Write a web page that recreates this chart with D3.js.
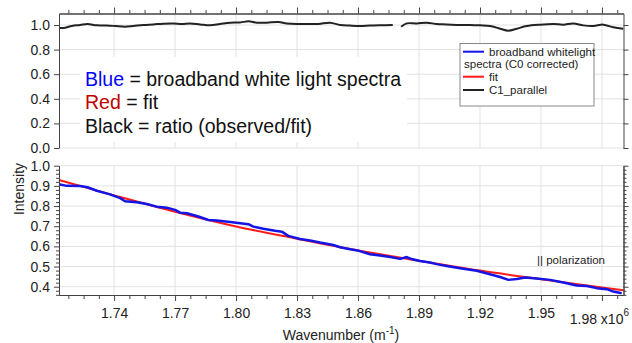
<!DOCTYPE html>
<html><head><meta charset="utf-8">
<script src="https://cdn.jsdelivr.net/npm/d3@7"></script>
<style>
html,body{margin:0;padding:0;background:#fff;}
svg{display:block;font-family:"Liberation Sans",Arial,sans-serif;}
</style></head>
<body><svg id="c" width="632" height="343"></svg>
<script>
// ---------- data ----------
const blueWn = [1.7129,1.7167,1.7233,1.7269,1.7315,1.7380,1.7430,1.7454,1.7512,1.7561,1.7610,1.7659,1.7700,1.7725,1.7758,1.7815,1.7864,1.7905,1.7971,1.8020,1.8061,1.8085,1.8134,1.8192,1.8225,1.8257,1.8315,1.8364,1.8413,1.8453,1.8478,1.8512,1.8561,1.8605,1.8659,1.8709,1.8758,1.8807,1.8840,1.8864,1.8905,1.8954,1.8987,1.9036,1.9102,1.9184,1.9249,1.9299,1.9340,1.9381,1.9422,1.9479,1.9545,1.9610,1.9676,1.9725,1.9774,1.9824,1.9856,1.9897];
const blueVal = [0.908,0.900,0.899,0.893,0.876,0.858,0.839,0.824,0.819,0.810,0.797,0.792,0.781,0.767,0.764,0.748,0.731,0.728,0.721,0.715,0.710,0.698,0.687,0.677,0.673,0.652,0.637,0.629,0.619,0.612,0.607,0.596,0.586,0.578,0.561,0.555,0.547,0.538,0.547,0.537,0.528,0.520,0.512,0.503,0.492,0.479,0.462,0.448,0.434,0.438,0.446,0.441,0.434,0.421,0.406,0.404,0.393,0.388,0.376,0.368];

const fitWn  = [1.7129,1.74,1.77,1.80,1.83,1.86,1.89,1.92,1.95,1.98,1.9906];
const fitVal = [0.929,0.853,0.772,0.699,0.638,0.580,0.529,0.480,0.437,0.396,0.382];

const ratioWn  = [1.7129,1.7151,1.7192,1.7233,1.7269,1.7315,1.7364,1.7405,1.7454,1.7495,1.7544,1.7593,1.7642,1.7692,1.7733,1.7774,1.7823,1.7872,1.7921,1.7971,1.8020,1.8061,1.8102,1.8151,1.8208,1.8249,1.8299,1.8348,1.8405,1.8462,1.8512,1.8561,1.8610,1.8659,1.8708,1.8771,1.8790,1.8812,1.8840,1.8889,1.8938,1.8987,1.9036,1.9102,1.9151,1.9200,1.9249,1.9299,1.9339,1.9381,1.9430,1.9495,1.9561,1.9610,1.9659,1.9708,1.9758,1.9807,1.9856,1.9905];
const ratioVal = [0.978,0.976,0.992,1.000,1.008,0.997,0.996,0.992,0.986,0.992,1.000,1.005,1.011,1.013,1.008,1.013,1.005,0.997,1.008,1.019,1.021,1.030,1.019,1.019,1.024,1.013,1.008,1.008,1.008,1.019,1.000,0.995,0.992,0.995,0.997,1.000,null,0.986,1.013,1.013,1.019,1.008,1.005,1.000,1.000,0.997,0.992,0.970,0.954,0.970,0.992,1.003,1.008,1.003,1.013,0.997,0.992,1.003,0.981,0.970];

const xMajorTicks = [1.74,1.77,1.80,1.83,1.86,1.89,1.92,1.95,1.98];
const xTickLabels = ["1.74","1.77","1.80","1.83","1.86","1.89","1.92","1.95",""];
const topYTicks = [0,0.2,0.4,0.6,0.8,1.0];
const botYTicks = [0.4,0.5,0.6,0.7,0.8,0.9,1.0];

const legendLabels = ["broadband whitelight","spectra (C0 corrected)","fit","C1_parallel"];
const seriesColors = {blue:"#1414e6", red:"#ff1a1a", black:"#222222"};

// ---------- layout ----------
const svg = d3.select("#c");
svg.append("rect").attr("width",632).attr("height",343).attr("fill","#fff");
const L=59, R=623.5;
const x = d3.scaleLinear().domain([1.7129,1.9906]).range([L,R]);
const yTop = d3.scaleLinear().domain([0,1.0935]).range([148,13.5]);
const yBot = d3.scaleLinear().domain([0.359,1.0]).range([295,165.7]);

const xMinor = d3.range(1.7175,1.991,0.0075).filter(v=>!xMajorTicks.some(t=>Math.abs(t-v)<1e-4));
const botMinor = d3.range(0.36,1.0001,0.02).filter(v=>!botYTicks.some(t=>Math.abs(t-v)<1e-4));

const gridColor="#e2e2e2";
// grids
const grid = svg.append("g");
xMajorTicks.forEach(t=>{
  grid.append("line").attr("x1",x(t)).attr("x2",x(t)).attr("y1",yTop.range()[1]).attr("y2",148).attr("stroke",gridColor);
  grid.append("line").attr("x1",x(t)).attr("x2",x(t)).attr("y1",yBot(1.0)).attr("y2",295).attr("stroke",gridColor);
});
topYTicks.forEach(t=>grid.append("line").attr("x1",L).attr("x2",R).attr("y1",yTop(t)).attr("y2",yTop(t)).attr("stroke",gridColor));
botYTicks.forEach(t=>grid.append("line").attr("x1",L).attr("x2",R).attr("y1",yBot(t)).attr("y2",yBot(t)).attr("stroke",gridColor));

// annotation white box
svg.append("rect").attr("x",80).attr("y",57).attr("width",327).attr("height",85).attr("fill","#fff");

// ---------- series ----------
const ratioData = ratioWn.map((w,i)=>({x:w,y:ratioVal[i]}));
const blueData = blueWn.map((w,i)=>({x:w,y:blueVal[i]}));
const fitData = fitWn.map((w,i)=>({x:w,y:fitVal[i]}));

svg.append("path").datum(ratioData)
  .attr("d",d3.line().defined(d=>d.y!==null).x(d=>x(d.x)).y(d=>yTop(d.y)).curve(d3.curveCatmullRom))
  .attr("fill","none").attr("stroke",seriesColors.black).attr("stroke-width",2);
svg.append("path").datum(fitData)
  .attr("d",d3.line().x(d=>x(d.x)).y(d=>yBot(d.y)).curve(d3.curveMonotoneX))
  .attr("fill","none").attr("stroke",seriesColors.red).attr("stroke-width",2);
svg.append("path").datum(blueData)
  .attr("d",d3.line().x(d=>x(d.x)).y(d=>yBot(d.y)))
  .attr("fill","none").attr("stroke",seriesColors.blue).attr("stroke-width",2.5).attr("stroke-linejoin","round");

// ---------- axes ----------
const axCol="#444", fs="14px";
function style(g){
  g.selectAll("path,line").attr("stroke",axCol);
  g.selectAll("text").attr("fill","#222").style("font-size",fs).style("font-family","'Liberation Sans',Arial,sans-serif");
}
// top panel
svg.append("g").attr("transform",`translate(${L},0)`).call(d3.axisLeft(yTop).tickValues(topYTicks).tickSize(5).tickSizeOuter(0).tickPadding(4).tickFormat(d3.format(".1f"))).call(style);
svg.append("g").attr("transform",`translate(${R},0)`).call(d3.axisRight(yTop).tickValues(topYTicks).tickSize(5).tickSizeOuter(0).tickFormat("")).call(style);
svg.append("g").attr("transform",`translate(0,13.5)`).call(d3.axisTop(x).tickValues(xMajorTicks).tickSize(6).tickSizeOuter(0).tickFormat("")).call(style);
svg.append("g").attr("transform",`translate(0,13.5)`).call(d3.axisTop(x).tickValues(xMinor).tickSize(3.5).tickSizeOuter(0).tickFormat("")).call(style);
// bottom panel
svg.append("g").attr("transform",`translate(${L},0)`).call(d3.axisLeft(yBot).tickValues(botYTicks).tickSize(5).tickSizeOuter(0).tickPadding(4).tickFormat(d3.format(".1f"))).call(style);
svg.append("g").attr("transform",`translate(${L},0)`).call(d3.axisLeft(yBot).tickValues(botMinor).tickSize(3).tickSizeOuter(0).tickFormat("")).call(style);
svg.append("g").attr("transform",`translate(${R},0)`).call(d3.axisRight(yBot).tickValues(botYTicks).tickSize(5).tickSizeOuter(0).tickFormat("")).call(style);
svg.append("g").attr("transform",`translate(${R},0)`).call(d3.axisRight(yBot).tickValues(botMinor).tickSize(3).tickSizeOuter(0).tickFormat("")).call(style);
svg.append("g").attr("transform",`translate(0,295)`).call(d3.axisBottom(x).tickValues(xMajorTicks).tickSize(6).tickSizeOuter(0).tickPadding(7).tickFormat((d,i)=>xTickLabels[i])).call(style);
svg.append("g").attr("transform",`translate(0,295)`).call(d3.axisBottom(x).tickValues(xMinor).tickSize(4).tickSizeOuter(0).tickFormat("")).call(style);

// last tick label with exponent
const lastLab = svg.append("text").attr("x",629).attr("y",324).attr("text-anchor","end").attr("fill","#222").style("font-size",fs);
lastLab.append("tspan").text("1.98 x10");
lastLab.append("tspan").attr("dy",-8).style("font-size","10px").text("6");

// axis titles
const xt = svg.append("text").attr("x",341).attr("y",340).attr("text-anchor","middle").attr("fill","#222").style("font-size",fs);
xt.append("tspan").text("Wavenumber (m");
xt.append("tspan").attr("dy",-6).style("font-size","10px").text("-1");
xt.append("tspan").attr("dy",6).text(")");
svg.append("text").attr("transform","translate(24,189) rotate(-90)").attr("text-anchor","middle").attr("fill","#222").style("font-size",fs).text("Intensity");

// annotation text
const ann = [
  {c:"Blue", col:"#0000ff", rest:" = broadband white light spectra", y:85.7},
  {c:"Red", col:"#c00000", rest:" = fit", y:109.3},
  {c:"Black", col:"#111", rest:" = ratio (observed/fit)", y:133}
];
ann.forEach(a=>{
  const t = svg.append("text").attr("x",85).attr("y",a.y).style("font-size","19.5px").attr("fill","#111");
  t.append("tspan").attr("fill",a.col).text(a.c);
  t.append("tspan").text(a.rest);
});

// legend
const lg = svg.append("g");
lg.append("rect").attr("x",460).attr("y",43.5).attr("width",134).attr("height",62.5).attr("fill","#fff").attr("stroke","#888").attr("stroke-width",1);
const lf = "11.5px";
[[seriesColors.blue,51.7],[seriesColors.red,76.7],[seriesColors.black,90]].forEach(([c,yy])=>{
  lg.append("line").attr("x1",463).attr("x2",484).attr("y1",yy).attr("y2",yy).attr("stroke",c).attr("stroke-width",2);
});
lg.append("text").attr("x",489).attr("y",55.8).style("font-size",lf).attr("fill","#222").text(legendLabels[0]);
lg.append("text").attr("x",464).attr("y",67.5).style("font-size",lf).attr("fill","#222").text(legendLabels[1]);
lg.append("text").attr("x",489).attr("y",80.8).style("font-size",lf).attr("fill","#222").text(legendLabels[2]);
lg.append("text").attr("x",489).attr("y",93.6).style("font-size",lf).attr("fill","#222").text(legendLabels[3]);

// polarization note
svg.append("text").attr("x",537).attr("y",263.5).style("font-size",lf).attr("fill","#222").text("|| polarization");
</script></body></html>
